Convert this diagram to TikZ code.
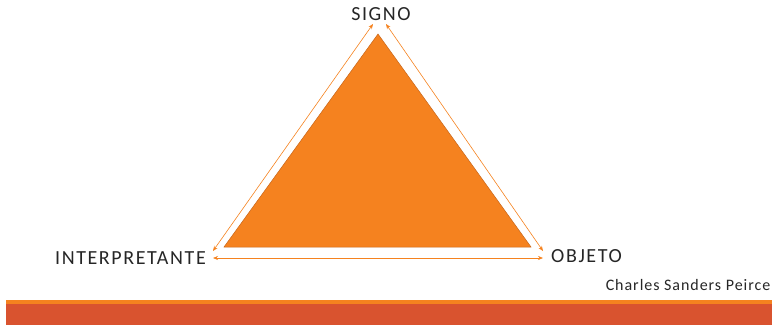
\documentclass[tikz,border=0pt]{standalone}
\usepackage{fontspec}
\setmainfont{Carlito}
\newfontfamily\labelfont[LetterSpace=8]{Carlito}
\newfontfamily\creditfont[LetterSpace=6]{Carlito}
\usepackage{xcolor}
\usetikzlibrary{arrows.meta,positioning,calc}
\definecolor{psorange}{HTML}{F5821F}
\definecolor{psedge}{HTML}{C8661A}
\definecolor{psred}{HTML}{D9532F}
\definecolor{pstext}{HTML}{262626}
\tikzset{
  relarrow/.style={{Stealth[length=5pt,width=4pt]}-{Stealth[length=5pt,width=4pt]}, line width=0.6pt, draw=psorange},
  vertexlabel/.style={font=\labelfont\fontsize{20}{24}\selectfont, text=pstext, inner sep=0pt},
  creditlabel/.style={font=\creditfont\fontsize{16}{19}\selectfont, text=pstext, inner sep=0pt}
}
\begin{document}
\begin{tikzpicture}[x=1pt,y=-1pt]
        \useasboundingbox (0,0) rectangle (772,325);
        % triangle
        \coordinate (top) at (378,34);
        \coordinate (bl) at (224,247);
        \coordinate (br) at (531,247);
        \filldraw[fill=psorange, draw=psedge, line width=0.5pt] (top) -- (bl) -- (br) -- cycle;

        % labels
        \node[vertexlabel] (signo) at (381,14) {SIGNO};
        \node[vertexlabel, anchor=east] (interp) at (206,258) {INTERPRETANTE};
        \node[vertexlabel, anchor=west] (objeto) at (551,256) {OBJETO};
        \node[creditlabel, anchor=east] (peirce) at (770.5,285) {Charles Sanders Peirce};

        % arrow ends
        \coordinate (sl) at (373,24);
        \coordinate (sr) at (386,24);
        \coordinate (il) at (213,251);
        \coordinate (ib) at (213,258);
        \coordinate (or) at (543,251);
        \coordinate (ob) at (543,258);

        \draw[relarrow] (il) -- (sl);
        \draw[relarrow] (sr) -- (or);
        \draw[relarrow] (ib) -- (ob);

        % footer bars
        \fill[psorange] (6,300) rectangle (772,304);
        \fill[psred] (6,304) rectangle (772,325);
    \end{tikzpicture}
\end{document}
